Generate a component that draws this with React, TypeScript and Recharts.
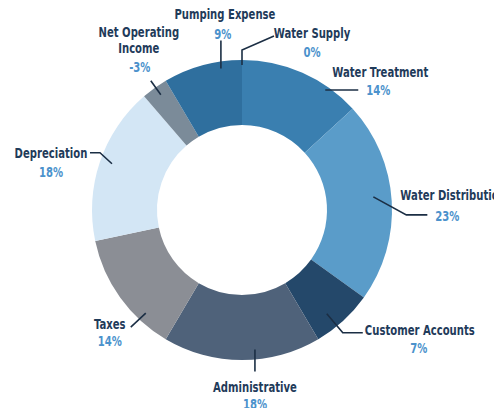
import { PieChart, Pie, Cell } from "recharts";

const CATEGORIES = [
  "Water Supply",
  "Water Treatment",
  "Water Distribution",
  "Customer Accounts",
  "Administrative",
  "Taxes",
  "Depreciation",
  "Net Operating Income",
  "Pumping Expense",
];
const PERCENTS = [0, 14, 23, 7, 18, 14, 18, -3, 9];
const COLORS = [
  "#2f6f9e",
  "#3a7fb0",
  "#5a9cc9",
  "#24486a",
  "#4f627a",
  "#8b8e95",
  "#d3e6f5",
  "#7b8b99",
  "#2f6f9e",
];

const TITLE_COLOR = "#1f3b5a";
const PCT_COLOR = "#4b92cc";
const LINE_COLOR = "#1b2e44";
const FONT = "'DejaVu Sans', sans-serif";
// no condensed font installed, so squeeze the text horizontally
const SQUEEZE = 0.72;

// leader line layout per slice: start at (midAngle + shift, r), then relative path,
// text offsets are relative to the last path point
type Layout = {
  shift: number;
  r: number;
  path: [number, number][];
  title: [number, number];
  pct: [number, number];
  anchor?: "start" | "middle" | "end";
  lines?: string[];
};

const LABEL_LAYOUT: Layout[] = [
  { shift: 0, r: 145, path: [[0, -15], [32, -29]], title: [38, -3], pct: [38, 16] },
  { shift: 11, r: 146, path: [[33, 0]], title: [22, -18], pct: [20, 0] },
  { shift: -2.3, r: 132, path: [[33, 18], [54, 18]], title: [-27, -19], pct: [20, 2], anchor: "start" },
  { shift: 3.2, r: 134, path: [[16, 19], [36, 19]], title: [57, -2], pct: [56, 16] },
  { shift: -5.3, r: 140, path: [[0, 22]], title: [0, 16], pct: [0, 33] },
  { shift: -11.3, r: 141, path: [[-15, 14]], title: [-21, -3], pct: [-21, 14] },
  { shift: 0.9, r: 138, path: [[-12, -11], [-22, -11]], title: [-39, 1], pct: [-39, 20] },
  { shift: 0.5, r: 141, path: [[-10, -14]], title: [-12, -48], pct: [-11, -13], lines: ["Net Operating", "Income"] },
  { shift: 6.8, r: 143, path: [[0, -28]], title: [4, -26], pct: [2, -6] },
];

const data = CATEGORIES.map((name, i) => ({ name, pct: PERCENTS[i] }));

const RAD = Math.PI / 180;

function Narrow({ x, y, anchor, color, children }: any) {
  return (
    <text
      transform={`translate(${x},${y}) scale(${SQUEEZE},1)`}
      x={0}
      y={0}
      textAnchor={anchor}
      dominantBaseline="central"
      fill={color}
      fontFamily={FONT}
      fontWeight="bold"
      fontSize={14}
    >
      {children}
    </text>
  );
}

function renderLabel(props: any) {
  const { cx, cy, midAngle, index } = props;
  const lay = LABEL_LAYOUT[index];
  if (!lay) return null;
  // clockwise degrees from 12 o'clock
  const theta = 90 - midAngle + lay.shift;
  const sx = cx + lay.r * Math.sin(theta * RAD);
  const sy = cy - lay.r * Math.cos(theta * RAD);
  const pts = [[sx, sy], ...lay.path.map(([dx, dy]) => [sx + dx, sy + dy])];
  const [ex, ey] = pts[pts.length - 1];
  const anchor = lay.anchor ?? "middle";
  const lines = lay.lines ?? [CATEGORIES[index]];
  return (
    <g key={`lbl-${index}`}>
      <polyline
        points={pts.map((p) => p.join(",")).join(" ")}
        fill="none"
        stroke={LINE_COLOR}
        strokeWidth={1.6}
      />
      {lines.map((t, k) => (
        <Narrow
          key={k}
          x={ex + lay.title[0]}
          y={ey + lay.title[1] + k * 16}
          anchor={anchor}
          color={TITLE_COLOR}
        >
          {t}
        </Narrow>
      ))}
      <Narrow x={ex + lay.pct[0]} y={ey + lay.pct[1]} anchor="middle" color={PCT_COLOR}>
        {`${PERCENTS[index]}%`}
      </Narrow>
    </g>
  );
}

export default function App() {
  return (
    <div style={{ position: "absolute", left: 0, top: 0, width: 494, height: 408, background: "#fff" }}>
      <PieChart width={494} height={408} margin={{ top: 0, right: 0, bottom: 0, left: 0 }}>
        <Pie
          data={data}
          dataKey={(d: any) => Math.abs(d.pct)}
          nameKey="name"
          cx={242}
          cy={210}
          innerRadius={85}
          outerRadius={150}
          startAngle={90}
          endAngle={-270}
          stroke="none"
          label={renderLabel}
          labelLine={false}
          isAnimationActive={false}
        >
          {data.map((d, i) => (
            <Cell key={d.name} fill={COLORS[i]} stroke="none" />
          ))}
        </Pie>
      </PieChart>
    </div>
  );
}
